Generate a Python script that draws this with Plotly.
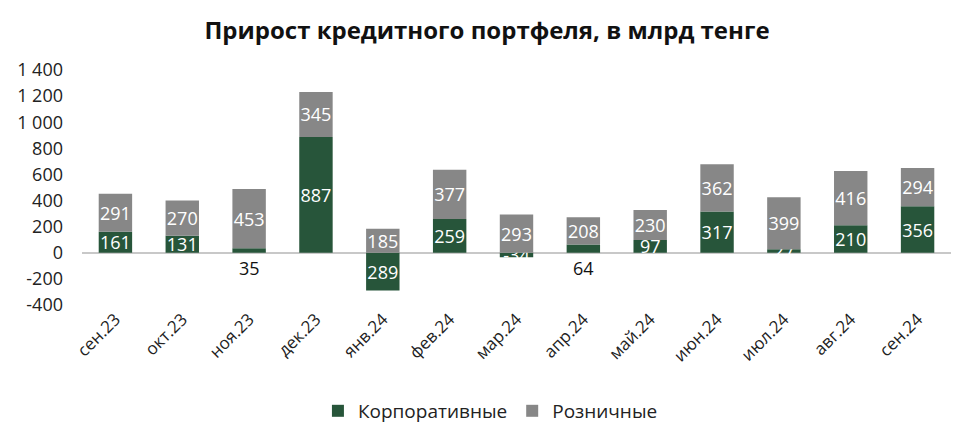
import plotly.graph_objects as go

categories = ["сен.23", "окт.23", "ноя.23", "дек.23", "янв.24", "фев.24", "мар.24",
              "апр.24", "май.24", "июн.24", "июл.24", "авг.24", "сен.24"]
corporate = [161, 131, 35, 887, -289, 259, -34, 64, 97, 317, 27, 210, 356]
retail = [291, 270, 453, 345, 185, 377, 293, 208, 230, 362, 399, 416, 294]
corp_labels = ["161", "131", "", "887", "289", "259", "-34", "", "97", "317", "27", "210", "356"]
outside_labels = {"ноя.23": 35, "апр.24": 64}
y_ticks = [-400, -200, 0, 200, 400, 600, 800, 1000, 1200, 1400]

GREEN = "#27553a"
GRAY = "#878787"
FONT = "Open Sans"

fig = go.Figure()
fig.add_trace(go.Bar(
    x=categories, y=corporate, name="Корпоративные",
    marker=dict(color=GREEN, line=dict(width=0)),
    text=corp_labels, textposition="inside", insidetextanchor="middle", textangle=0,
    textfont=dict(color="white", size=18, family=FONT),
))
fig.add_trace(go.Bar(
    x=categories, y=retail, name="Розничные",
    marker=dict(color=GRAY, line=dict(width=0)),
    text=[str(v) for v in retail], textposition="inside", insidetextanchor="middle", textangle=0,
    textfont=dict(color="white", size=18, family=FONT),
))

for cat, val in outside_labels.items():
    fig.add_annotation(x=cat, y=0, text=str(val), showarrow=False, yanchor="top",
                       yshift=-1, font=dict(color="#111111", size=18, family=FONT))

fig.update_layout(
    width=974, height=437,
    barmode="relative", bargap=0.5,
    paper_bgcolor="white", plot_bgcolor="white",
    margin=dict(l=82, r=23, t=70, b=132, autoexpand=False),
    title=dict(text="<b>Прирост кредитного портфеля, в млрд тенге</b>",
               x=0.5, xanchor="center", y=0.93, yanchor="middle",
               font=dict(size=24, color="#111111", family=FONT)),
    font=dict(family=FONT, color="#222222"),
    uniformtext=dict(minsize=18, mode="show"),
    legend=dict(orientation="h", x=0.47, xanchor="center", y=-0.37, yanchor="top",
                font=dict(size=19, color="#222222", family=FONT),
                itemwidth=30, traceorder="normal"),
    showlegend=True,
)
fig.update_xaxes(tickangle=-45, tickfont=dict(size=17, color="#222222"),
                 showline=False, showgrid=False, ticks="", automargin=False)
fig.update_yaxes(range=[-400, 1400], tickvals=y_ticks,
                 ticktext=[f"{v:,}".replace(",", " ") for v in y_ticks],
                 tickfont=dict(size=18, color="#222222"), automargin=False,
                 showgrid=False, zeroline=True, zerolinecolor="#c8c8c8", zerolinewidth=2,
                 ticks="", ticklabelstandoff=18)

fig.write_html("out.html")
